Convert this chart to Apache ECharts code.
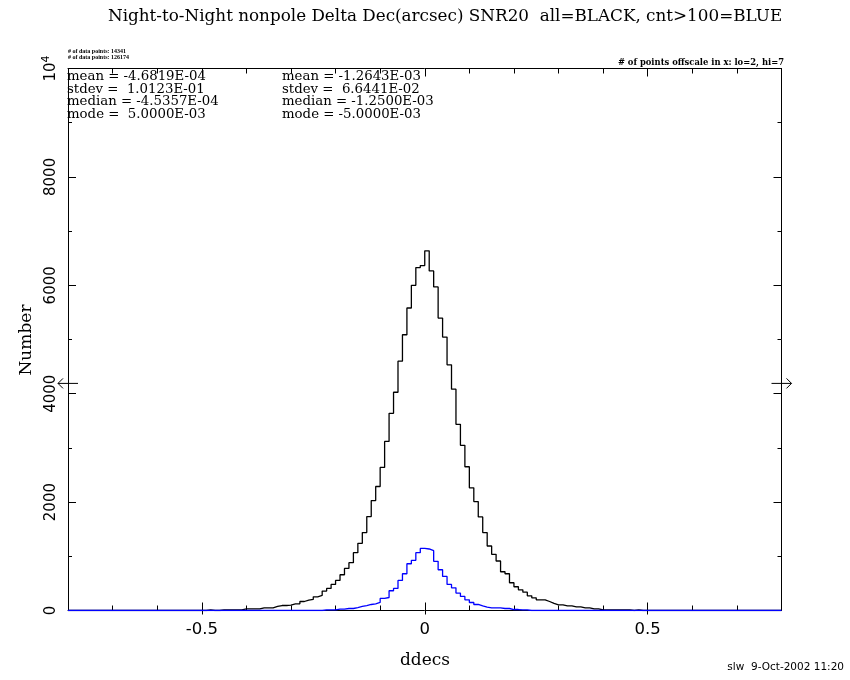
<!DOCTYPE html>
<html>
<head>
<meta charset="utf-8">
<script src="https://cdn.jsdelivr.net/npm/echarts@6/dist/echarts.min.js"></script>
<style>
html,body{margin:0;padding:0;background:#fff;}
#chart{width:850px;height:680px;}
</style>
</head>
<body>
<div id="chart"></div>
<script>
// Histogram bins: width 0.01, first bin starts at -0.50 (100 bins to +0.50)
const binStart = -0.5;
const binWidth = 0.01;
// all objects (BLACK)
const allCounts = [
  0, 12, 0, 0, 12, 12, 12, 12, 12, 30,
  30, 30, 30, 50, 50, 50, 74, 92, 92, 99,
  123, 123, 166, 191, 205, 253, 278, 358, 407, 481,
  555, 660, 777, 882, 1067, 1240, 1437, 1733, 2029, 2288,
  2639, 3120, 3638, 4027, 4600, 5088, 5581, 6000, 6327, 6364,
  6636, 6266, 5970, 5396, 5045, 4533, 4083, 3435, 3047, 2652,
  2263, 2010, 1727, 1437, 1190, 1036, 913, 715, 678, 512,
  438, 382, 339, 271, 234, 197, 197, 166, 130, 105,
  105, 86, 86, 68, 68, 49, 49, 31, 31, 12,
  12, 12, 12, 12, 12, 12, 0, 12, 0, 0
];
// cnt>100 objects (BLUE)
const cntCounts = [
  0, 0, 0, 0, 0, 0, 0, 0, 0, 0,
  0, 0, 0, 0, 0, 0, 0, 0, 0, 0,
  0, 0, 0, 0, 0, 0, 0, 12, 12, 12,
  25, 25, 37, 37, 55, 74, 92, 111, 123, 148,
  222, 240, 364, 407, 555, 678, 863, 925, 1067, 1145,
  1135, 1104, 907, 752, 629, 481, 419, 321, 259, 197,
  148, 111, 86, 62, 49, 49, 49, 37, 37, 18,
  18, 12, 12, 0, 0, 0, 0, 0, 0, 0,
  0, 0, 0, 0, 0, 0, 0, 0, 0, 0,
  0, 0, 0, 0, 0, 0, 0, 0, 0, 0
];
const xMin = -0.8, xMax = 0.8;
const xMajorTicks = [-0.5, 0, 0.5];
const yTicks = [0, 2000, 4000, 6000, 8000, 10000];
const arrowLevel = 4190;

const statsAll = ['mean = -4.6819E-04', 'stdev =  1.0123E-01', 'median = -4.5357E-04', 'mode =  5.0000E-03'];
const statsCnt = ['mean = -1.2643E-03', 'stdev =  6.6441E-02', 'median = -1.2500E-03', 'mode = -5.0000E-03'];
const pointsLines = ['# of data points: 14341', '# of data points: 126174'];

function stepData(counts) {
  const d = [[xMin, 0]];
  for (let i = 0; i < counts.length; i++) {
    const e = Math.round((binStart + i * binWidth) * 1000) / 1000;
    d.push([e, counts[i]]);
  }
  const last = Math.round((binStart + counts.length * binWidth) * 1000) / 1000;
  d.push([last, 0]);
  d.push([xMax, 0]);
  return d;
}

const chart = echarts.init(document.getElementById('chart'), null, {renderer: 'canvas'});
const black = '#000';
const serif = 'DejaVu Serif';
const sans = 'DejaVu Sans';

function isMajor(v) {
  return xMajorTicks.some(t => Math.abs(t - v) < 1e-6);
}
const minorX = [];
for (let k = -7; k <= 7; k++) { const v = k / 10; if (!isMajor(v)) minorX.push(v); }

const baseX = {type: 'value', min: xMin, max: xMax, splitLine: {show: false}, axisLine: {show: false}, axisLabel: {show: false}, axisTick: {show: false}};

const option = {
  animation: false,
  backgroundColor: '#fff',
  title: {
    text: 'Night-to-Night nonpole Delta Dec(arcsec) SNR20  all=BLACK, cnt>100=BLUE',
    left: 103, top: 3,
    textStyle: {fontFamily: serif, fontSize: 16.8, fontWeight: 'normal', color: black}
  },
  grid: {left: 68, right: 68.5, top: 68.5, bottom: 69.5, containLabel: false},
  xAxis: [
    Object.assign({}, baseX, {
      position: 'bottom',
      axisLine: {show: true, onZero: false, lineStyle: {color: black, width: 1}},
      axisTick: {show: true, inside: true, length: 5, customValues: minorX, lineStyle: {color: black}},
      axisLabel: {show: true, customValues: xMajorTicks, margin: 11, fontFamily: sans, fontSize: 16.5, color: black,
        formatter: v => String(v)}
    }),
    Object.assign({}, baseX, {
      position: 'bottom',
      axisTick: {show: true, inside: true, length: 8, customValues: xMajorTicks, lineStyle: {color: black}}
    }),
    Object.assign({}, baseX, {
      position: 'bottom',
      axisTick: {show: true, inside: false, length: 4, customValues: xMajorTicks, lineStyle: {color: black}}
    }),
    Object.assign({}, baseX, {
      position: 'top',
      axisLine: {show: true, onZero: false, lineStyle: {color: black, width: 1}},
      axisTick: {show: true, inside: true, length: 5, customValues: minorX, lineStyle: {color: black}}
    }),
    Object.assign({}, baseX, {
      position: 'top',
      axisTick: {show: true, inside: true, length: 8, customValues: xMajorTicks, lineStyle: {color: black}}
    })
  ],
  yAxis: [
    {
      type: 'value', position: 'left', min: 0, max: 10000, interval: 2000,
      splitLine: {show: false},
      axisLine: {show: true, onZero: false, lineStyle: {color: black, width: 1}},
      axisTick: {show: true, inside: true, length: 8, lineStyle: {color: black}},
      minorTick: {show: true, splitNumber: 2, length: 4, lineStyle: {color: black}},
      axisLabel: {
        show: true, rotate: 90, margin: 9, showMaxLabel: true, showMinLabel: true,
        fontFamily: sans, fontSize: 15, color: black,
        formatter: v => v === 10000 ? '{a|10}{s|4}' : String(v),
        rich: {
          a: {fontFamily: sans, fontSize: 15, color: black, lineHeight: 18, verticalAlign: 'bottom'},
          s: {fontFamily: sans, fontSize: 11, color: black, lineHeight: 18, verticalAlign: 'top'}
        }
      }
    },
    {
      type: 'value', position: 'right', min: 0, max: 10000, interval: 2000,
      splitLine: {show: false},
      axisLine: {show: true, onZero: false, lineStyle: {color: black, width: 1}},
      axisTick: {show: true, inside: true, length: 8, lineStyle: {color: black}},
      minorTick: {show: true, splitNumber: 2, length: 4, lineStyle: {color: black}},
      axisLabel: {show: false}
    }
  ],
  series: [
    {
      name: 'all', type: 'line', xAxisIndex: 0, yAxisIndex: 0, step: 'end',
      showSymbol: false, symbol: 'none', data: stepData(allCounts),
      lineStyle: {color: '#000', width: 1.3}, itemStyle: {color: '#000'}, z: 2, silent: true
    },
    {
      name: 'cnt>100', type: 'line', xAxisIndex: 0, yAxisIndex: 0, step: 'end',
      showSymbol: false, symbol: 'none', data: stepData(cntCounts),
      lineStyle: {color: '#0000ff', width: 1.3}, itemStyle: {color: '#0000ff'}, z: 3, silent: true
    }
  ]
};
chart.setOption(option);

// annotations
const pL = chart.convertToPixel({xAxisIndex: 0, yAxisIndex: 0}, [xMin, arrowLevel]);
const pR = chart.convertToPixel({xAxisIndex: 0, yAxisIndex: 0}, [xMax, arrowLevel]);
const gTop = chart.convertToPixel({xAxisIndex: 0, yAxisIndex: 0}, [xMin, 10000]);
const gx0 = pL[0], gx1 = pR[0], gy = pL[1], gTopY = gTop[1];

function arrow(x0, x1, y, headAt) {
  const hx = headAt, dir = headAt < (x0 + x1) / 2 ? 1 : -1;
  return [
    {type: 'line', shape: {x1: x0, y1: y, x2: x1, y2: y}, style: {stroke: black, lineWidth: 1}, silent: true},
    {type: 'polyline', shape: {points: [[hx + dir * 5, y - 5], [hx, y], [hx + dir * 5, y + 5]]}, style: {stroke: black, lineWidth: 1, fill: null}, silent: true}
  ];
}

const graphics = [];
graphics.push(...arrow(gx0 - 10, gx0 + 10, gy, gx0 - 10));
graphics.push(...arrow(gx1 - 10, gx1 + 10, gy, gx1 + 10));

const lineH = 12.4;
for (let i = 0; i < statsAll.length; i++) {
  graphics.push({type: 'text', x: gx0 - 1, y: gTopY + 8.5 + i * lineH, silent: true,
    style: {text: statsAll[i], fontFamily: serif, fontSize: 13.3, fill: black, align: 'left', verticalAlign: 'middle'}});
  graphics.push({type: 'text', x: 282, y: gTopY + 8.5 + i * lineH, silent: true,
    style: {text: statsCnt[i], fontFamily: serif, fontSize: 13.3, fill: black, align: 'left', verticalAlign: 'middle'}});
}
for (let i = 0; i < pointsLines.length; i++) {
  graphics.push({type: 'text', x: gx0, y: 51 + i * 6, silent: true,
    style: {text: pointsLines[i], fontFamily: 'Liberation Serif', fontWeight: 'bold', fontSize: 6, fill: black, align: 'left', verticalAlign: 'middle'}});
}
graphics.push({type: 'text', x: 784, y: 62.5, silent: true,
  style: {text: '# of points offscale in x: lo=2, hi=7', fontFamily: 'DejaVu Serif', fontWeight: 'bold', fontSize: 8.4, fill: black, align: 'right', verticalAlign: 'middle'}});
graphics.push({type: 'text', x: 425, y: 661, silent: true,
  style: {text: 'ddecs', fontFamily: serif, fontSize: 17, fill: black, align: 'center', verticalAlign: 'middle'}});
graphics.push({type: 'text', x: 27, y: 340, rotation: Math.PI / 2, silent: true,
  style: {text: 'Number', fontFamily: serif, fontSize: 17, fill: black, align: 'center', verticalAlign: 'middle'}});
graphics.push({type: 'text', x: 844, y: 667, silent: true,
  style: {text: 'slw  9-Oct-2002 11:20', fontFamily: sans, fontSize: 10.5, fill: black, align: 'right', verticalAlign: 'middle'}});

chart.setOption({graphic: graphics});
</script>
</body>
</html>
